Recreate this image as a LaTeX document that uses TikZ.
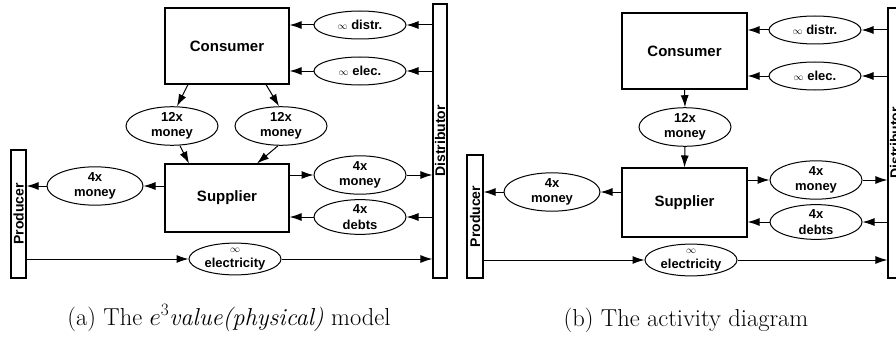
\documentclass[tikz,border=0pt]{standalone}
\usepackage{fontspec}
\setsansfont{Liberation Sans}
\usetikzlibrary{arrows.meta,shapes.geometric}
\tikzset{
  ent/.style={draw, line width=1.1pt, inner sep=0pt, font=\sffamily\bfseries\fontsize{15}{18}\selectfont},
  barbox/.style={draw, line width=1.1pt, inner sep=0pt},
  barlabel/.style={font=\sffamily\bfseries\fontsize{14}{16}\selectfont},
  val/.style={ellipse, draw, line width=1pt, minimum width=92pt, minimum height=28pt, inner sep=0pt, align=center, font=\sffamily\bfseries\fontsize{13}{15.5}\selectfont},
  flow/.style={-{Latex[length=12pt,width=8pt]}, line width=1pt},
  captext/.style={font=\fontsize{24.5}{29}\selectfont}
}
\newcommand{\inff}{{\fontsize{10}{10}\selectfont$\infty$}}
\begin{document}
\begin{tikzpicture}[x=1pt,y=-1pt]
\useasboundingbox (0,0) rectangle (896,337);
% ---------- panel (a) ----------
\node[ent, minimum width=124pt, minimum height=76pt] (consA) at (227,46) {Consumer};
\node[ent, minimum width=124pt, minimum height=68pt] (supA) at (227,198) {Supplier};
\node[barbox, minimum width=14pt, minimum height=274pt,
      label={[barlabel, rotate=90]center:Distributor}] (distA) at (440,141) {};
\node[barbox, minimum width=15pt, minimum height=128pt,
      label={[barlabel, rotate=90]center:Producer}] (prodA) at (18.5,214) {};
\node[val] (distrA) at (360,25) {\inff\ distr.};
\node[val] (elecA) at (360,71) {\inff\ elec.};
\node[val] (m12a) at (172,126) {12x\\money};
\node[val] (m12b) at (281,126) {12x\\money};
\node[val] (m4rA) at (360,175) {4x\\money};
\node[val] (debtsA) at (360,217) {4x\\debts};
\node[val, minimum width=96pt] (m4lA) at (95,186) {4x\\money};
\node[val] (elyA) at (235,259) {\inff\\electricity};
\draw[flow] (distA.west |- distrA) -- (distrA.east);
\draw[flow] (distrA.west) -- (consA.east |- distrA);
\draw[flow] (distA.west |- elecA) -- (elecA.east);
\draw[flow] (elecA.west) -- (consA.east |- elecA);
\draw[flow] ([xshift=-39pt]consA.south) -- ([xshift=5pt]m12a.north);
\draw[flow] ([xshift=39pt]consA.south) -- ([xshift=-2pt]m12b.north);
\draw[flow] ([xshift=8pt]m12a.south) -- ([xshift=-38pt]supA.north);
\draw[flow] ([xshift=-3pt]m12b.south) -- ([xshift=30pt]supA.north);
\draw[flow] (supA.east |- m4rA) -- (m4rA.west);
\draw[flow] (m4rA.east) -- (distA.west |- m4rA);
\draw[flow] (distA.west |- debtsA) -- (debtsA.east);
\draw[flow] (debtsA.west) -- (supA.east |- debtsA);
\draw[flow] (supA.west |- m4lA) -- (m4lA.east);
\draw[flow] (m4lA.west) -- (prodA.east |- m4lA);
\draw[flow] (prodA.east |- elyA) -- (elyA.west);
\draw[flow] (elyA.east) -- (distA.west |- elyA);
\node[captext] (capA) at (229,318) {(a) The $e^3$\textit{value(physical)} model};
% ---------- panel (b) ----------
\node[ent, minimum width=125pt, minimum height=76pt] (consB) at (684.5,51) {Consumer};
\node[ent, minimum width=125pt, minimum height=69pt] (supB) at (684.5,202.5) {Supplier};
\node[barbox, minimum width=14pt, minimum height=270pt,
      label={[barlabel, rotate=90]center:Distributor}] (distB) at (895,143) {};
\node[barbox, minimum width=16pt, minimum height=123pt,
      label={[barlabel, rotate=90]center:Producer}] (prodB) at (475,216.5) {};
\node[val] (distrB) at (815,30) {\inff\ distr.};
\node[val] (elecB) at (815,76) {\inff\ elec.};
\node[val] (m12c) at (685,127) {12x\\money};
\node[val] (m4rB) at (816,180) {4x\\money};
\node[val] (debtsB) at (816,222) {4x\\debts};
\node[val, minimum width=96pt] (m4lB) at (552,192) {4x\\money};
\node[val] (elyB) at (691,260) {\inff\\electricity};
\draw[flow] (distB.west |- distrB) -- (distrB.east);
\draw[flow] (distrB.west) -- (consB.east |- distrB);
\draw[flow] (distB.west |- elecB) -- (elecB.east);
\draw[flow] (elecB.west) -- (consB.east |- elecB);
\draw[flow] (consB.south) -- (m12c.north);
\draw[flow] (m12c.south) -- (supB.north);
\draw[flow] (supB.east |- m4rB) -- (m4rB.west);
\draw[flow] (m4rB.east) -- (distB.west |- m4rB);
\draw[flow] (distB.west |- debtsB) -- (debtsB.east);
\draw[flow] (debtsB.west) -- (supB.east |- debtsB);
\draw[flow] (supB.west |- m4lB) -- (m4lB.east);
\draw[flow] (m4lB.west) -- (prodB.east |- m4lB);
\draw[flow] (prodB.east |- elyB) -- (elyB.west);
\draw[flow] (elyB.east) -- (distB.west |- elyB);
\node[captext] (capB) at (686,320) {(b) The activity diagram};
\end{tikzpicture}
\end{document}
